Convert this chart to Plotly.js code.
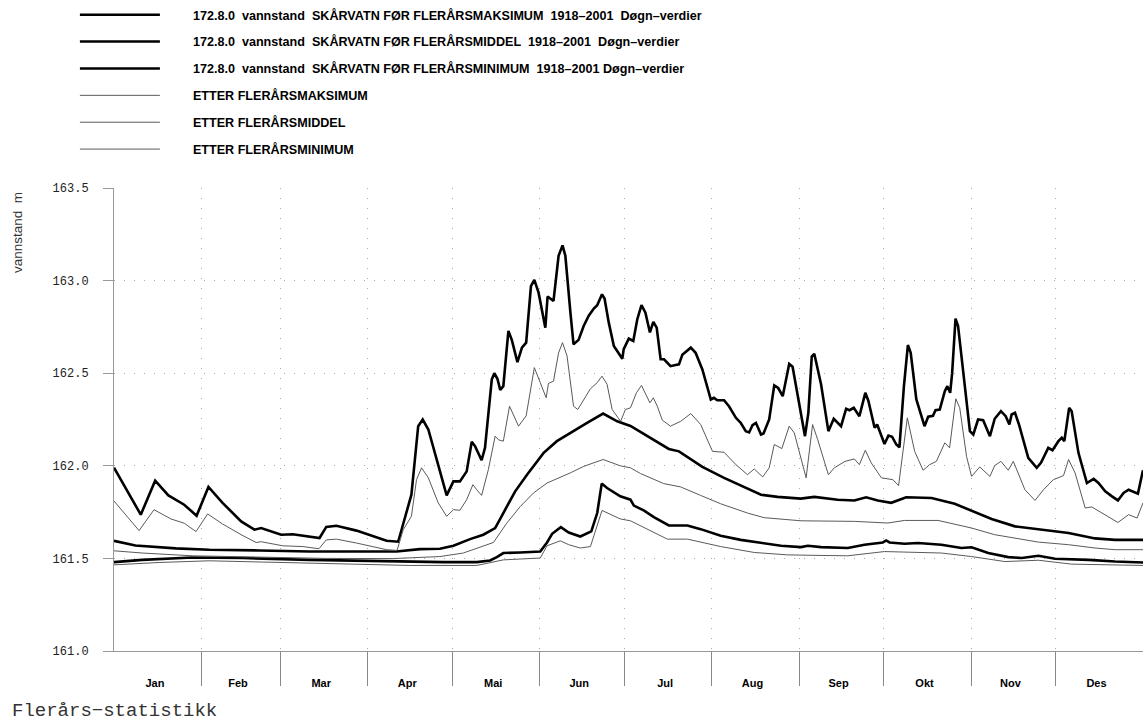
<!DOCTYPE html>
<html>
<head>
<meta charset="utf-8">
<script src="https://cdn.plot.ly/plotly-3.0.1.min.js"></script>
<style>html,body{margin:0;padding:0;background:#fff;}#chart{width:1143px;height:723px;}</style>
</head>
<body>
<div id="chart"></div>
<script>
// ---- data (day of year, water level in m) ----
const monthNames = ["Jan","Feb","Mar","Apr","Mai","Jun","Jul","Aug","Sep","Okt","Nov","Des"];
const monthStarts = [0,31,59,90,120,151,181,212,243,273,304,334,365];

const seriesNames = [
  "172.8.0\u00a0 vannstand\u00a0 SKÅRVATN FØR FLERÅRSMAKSIMUM\u00a0 1918–2001\u00a0 Døgn–verdier",
  "172.8.0\u00a0 vannstand\u00a0 SKÅRVATN FØR FLERÅRSMIDDEL\u00a0 1918–2001\u00a0 Døgn–verdier",
  "172.8.0\u00a0 vannstand\u00a0 SKÅRVATN FØR FLERÅRSMINIMUM\u00a0 1918–2001 Døgn–verdier",
  "ETTER FLERÅRSMAKSIMUM",
  "ETTER FLERÅRSMIDDEL",
  "ETTER FLERÅRSMINIMUM"
];

const forMaxDays = [0,9.5,14.6,19.3,24.9,29.3,33.5,38.5,45.1,49.8,52.2,59.3,63.4,68.2,72.9,75.3,78.9,86,91.9,96.7,100.8,103.8,105.5,107.9,109.5,111.5,115,118,120.4,122.7,125.1,126.9,128.1,130.4,131.6,134,134.9,136,137,138.1,139.9,141.1,143.1,144.7,146.2,147.9,149.1,150.6,153,153.8,155.9,157.7,159.1,160.1,161.9,163,164.8,166.6,168.4,170.2,171.4,173.1,174,175.5,177.3,180.3,180.8,182.6,184.2,185.6,187.1,188.5,190.1,191.3,192.5,193.9,195.1,197.4,199.2,200.4,201.6,204.6,206.3,208.7,211.7,212.8,214,216.4,218.2,220.6,222.3,224.1,225.3,226.5,227.7,229.5,230.4,232.4,234.2,235.6,237.2,239.5,240.7,242.5,245.1,246.3,247.5,248.4,250.8,253.4,255.3,257.9,259.7,260.9,262.4,264.4,266.5,267.6,269.8,270.7,272.8,273.3,274.7,276,277.5,278.6,280.2,281.6,282.6,284.6,287.5,288.8,290.5,291.4,292.9,294.7,295.6,296.6,297.3,298.5,299.4,301.2,303.6,304.8,306.5,308.3,310.7,312.4,314.6,316.3,317.6,318.4,319.6,321,324.3,327.3,328.8,331.4,332.9,335,336.2,337.1,338.8,339.7,342.1,345.1,347.5,349.2,351.6,354,356.1,358.1,359.9,363.2,365];
const forMaxVals = [161.99,161.736,161.92,161.84,161.79,161.73,161.886,161.80,161.70,161.655,161.664,161.628,161.63,161.62,161.61,161.67,161.676,161.65,161.62,161.595,161.59,161.754,161.844,162.214,162.25,162.196,161.997,161.84,161.916,161.916,161.97,162.13,162.105,162.03,162.097,162.466,162.50,162.47,162.41,162.43,162.728,162.68,162.56,162.638,162.665,162.97,163.004,162.935,162.746,162.914,162.89,163.134,163.19,163.134,162.827,162.656,162.68,162.755,162.81,162.849,162.867,162.926,162.903,162.773,162.647,162.578,162.63,162.687,162.674,162.79,162.867,162.827,162.72,162.777,162.746,162.575,162.575,162.538,162.544,162.548,162.60,162.638,162.61,162.52,162.358,162.367,162.354,162.354,162.32,162.259,162.232,162.187,162.18,162.22,162.232,162.169,162.174,162.25,162.434,162.42,162.376,162.55,162.535,162.376,162.16,162.286,162.59,162.605,162.44,162.187,162.254,162.214,162.308,162.30,162.313,162.268,162.394,162.35,162.205,162.223,162.142,162.118,162.163,162.157,162.115,162.10,162.43,162.652,162.61,162.358,162.214,162.265,162.27,162.30,162.304,162.403,162.43,162.394,162.50,162.795,162.755,162.50,162.187,162.169,162.25,162.246,162.16,162.254,162.295,162.268,162.223,162.277,162.286,162.223,162.043,161.989,162.016,162.097,162.084,162.133,162.151,162.133,162.313,162.295,162.07,161.907,161.929,161.907,161.862,161.835,161.813,161.853,161.871,161.85,161.976];

const forMidDays = [0,7.6,21.9,33.8,51.6,69.4,87.2,100.2,108.5,115.6,120.4,126.3,131,135.2,138.1,142.3,146.5,152.4,157.1,161.9,167.8,173.5,178.5,183.2,190.3,196.8,200.4,208.7,216.4,224.1,229.5,235.4,243.6,248.4,256.7,262.6,266.8,270.9,275.7,281,290,298.2,304.8,311.3,319.6,329,338.6,348,355.1,365];
const forMidVals = [161.595,161.57,161.554,161.547,161.543,161.537,161.537,161.537,161.55,161.552,161.568,161.604,161.628,161.664,161.745,161.862,161.952,162.07,162.133,162.178,162.232,162.282,162.24,162.215,162.151,162.091,162.078,161.994,161.935,161.88,161.844,161.832,161.823,161.832,161.817,161.813,161.83,161.813,161.80,161.83,161.826,161.795,161.754,161.713,161.673,161.655,161.637,161.608,161.60,161.60];

const forMinDays = [0,10,27.8,45.7,69.4,93.1,104.9,116.8,128.7,133.4,135.8,138.1,144.1,151.2,153.6,155.4,158.5,161.3,165.4,169.3,171.4,173,174.9,179.6,183.2,184.4,187.9,191.5,196.8,203.4,208.1,215.2,222.3,229.4,236.6,243.7,246.1,250.8,260.3,266.2,272.7,273.9,275.1,280.4,285.2,293.5,300.6,304.2,310.1,317.2,322,327.9,333.8,345.7,355.1,365];
const forMinVals = [161.48,161.492,161.505,161.502,161.492,161.485,161.482,161.48,161.48,161.489,161.507,161.529,161.532,161.537,161.586,161.633,161.669,161.64,161.618,161.646,161.745,161.904,161.88,161.835,161.817,161.785,161.759,161.723,161.678,161.678,161.658,161.622,161.60,161.586,161.568,161.561,161.568,161.561,161.556,161.574,161.586,161.597,161.586,161.579,161.583,161.574,161.556,161.56,161.529,161.507,161.502,161.514,161.498,161.492,161.483,161.478];

const etterMaxDays = [0,8.9,14.2,20.2,24.9,29.1,33.2,38.5,45.1,50.4,52.2,59.9,67,72.7,75.3,78.9,86,91.9,96.7,100.4,102.6,105.5,107.3,109.1,111.5,115,118,120.4,122.7,125.1,127.3,128.7,130.4,132.8,135.2,136.4,138.1,140.3,143.5,146.2,149.1,151.2,153.3,154.1,155.9,157.7,159.1,160.7,163,164.5,166.6,169,171.4,173.1,174.9,176.7,179.7,181.4,183.2,185.3,187.1,188.9,190.1,191.3,192.7,194.5,197.4,201,204.6,208.1,212.3,216.4,220.6,224.7,227.1,230.1,232.4,234.2,236.9,239.5,241.3,245.5,247.8,249.6,253.4,255.5,259.3,262.6,264.4,266.5,268.6,272.2,276.3,278.3,281.4,284,287,289.3,291.7,294.7,296.4,298.6,300,302.4,304.2,307.1,310.7,312.4,314.6,317.2,319,323.1,326.7,329.7,333.2,336.8,338.6,340.9,344.5,346.8,350.4,353.4,356.1,359.9,362.9,365];
const etterMaxVals = [161.81,161.65,161.763,161.713,161.69,161.645,161.74,161.686,161.628,161.586,161.59,161.568,161.564,161.552,161.60,161.604,161.583,161.561,161.547,161.543,161.655,161.727,161.925,161.989,161.935,161.80,161.727,161.763,161.76,161.817,161.898,161.87,161.84,161.98,162.16,162.14,162.133,162.322,162.214,162.27,162.53,162.449,162.367,162.445,162.457,162.61,162.665,162.593,162.322,162.304,162.358,162.416,162.449,162.484,162.44,162.304,162.24,162.304,162.313,162.394,162.434,162.376,162.34,162.367,162.322,162.246,162.214,162.24,162.282,162.223,162.078,162.073,162.006,161.952,161.983,161.94,161.989,162.115,162.093,162.214,162.178,161.935,162.223,162.142,161.952,161.989,162.024,162.037,162.006,162.084,162.016,161.935,161.925,161.893,162.259,162.078,161.976,162.006,162.024,162.124,162.097,162.362,162.313,162.051,161.943,161.994,161.943,162.001,162.024,161.976,162.024,161.871,161.813,161.871,161.925,161.947,162.034,161.962,161.772,161.778,161.745,161.718,161.694,161.736,161.718,161.80];

const etterMidDays = [0,10,27.8,51.6,75.3,99,115.6,123.9,128.7,134.6,139.3,144.1,148.8,153.6,161.9,166.6,173.5,179.6,183.2,186.8,195,201,208.1,215.2,224.7,230.6,243.7,262.6,274.5,280.4,292.3,304.2,312.4,327.9,338.6,348,355.1,365];
const etterMidVals = [161.541,161.529,161.514,161.505,161.50,161.499,161.51,161.529,161.556,161.586,161.69,161.78,161.853,161.907,161.962,161.997,162.034,162.0,161.989,161.958,161.904,161.886,161.84,161.795,161.745,161.72,161.703,161.70,161.691,161.705,161.705,161.664,161.628,161.588,161.574,161.556,161.547,161.547];

const etterMinDays = [0,16,33.8,57.5,81.2,104.9,128.7,134.6,138.1,151.2,153.6,158.3,161.3,165.4,169,173.1,176.1,179.6,183.2,186.8,196.3,203.4,215.2,227.1,239,250.8,260.3,273.3,286.4,293.5,304.2,316,327.9,339.7,365];
const etterMinVals = [161.465,161.478,161.487,161.478,161.469,161.462,161.462,161.483,161.492,161.502,161.568,161.595,161.574,161.556,161.564,161.759,161.736,161.713,161.703,161.676,161.604,161.604,161.564,161.532,161.519,161.516,161.514,161.537,161.532,161.529,161.51,161.483,161.49,161.469,161.462];

// ---- traces ----
const thick = {color: "#000000", width: 2.6};
const thin = {color: "#5a5a5a", width: 1};
const seriesX = [forMaxDays, forMidDays, forMinDays, etterMaxDays, etterMidDays, etterMinDays];
const seriesY = [forMaxVals, forMidVals, forMinVals, etterMaxVals, etterMidVals, etterMinVals];
const legendPad = "\u00a0".repeat(8);
const traces = seriesX.map((xs, i) => ({
  type: "scatter", mode: "lines", x: xs, y: seriesY[i], name: legendPad + seriesNames[i],
  legendgroup: "g" + i, line: Object.assign({}, i < 3 ? thick : thin),
  hoverinfo: "skip"
}));

const labelPos = monthStarts.slice(0, 12).map((s, i) => s + (monthStarts[i + 1] - s) / 2 - 1);
const sans = "Liberation Sans, Arial, sans-serif";

const layout = {
  width: 1143, height: 723,
  margin: {l: 114, r: 0, t: 188, b: 72},
  paper_bgcolor: "#fff", plot_bgcolor: "#fff",
  showlegend: true,
  legend: {
    x: -0.038, y: 1.407, xanchor: "left", yanchor: "top",
    bgcolor: "rgba(0,0,0,0)", borderwidth: 0,
    font: {family: sans, size: 12.6, color: "#000", weight: "bold"},
    itemwidth: 80, tracegroupgap: 7.5, traceorder: "grouped", itemclick: false
  },
  xaxis: {
    range: [0, 365], showline: true, linecolor: "#999", linewidth: 1, mirror: false,
    showgrid: false, zeroline: false,
    tickmode: "array", tickvals: labelPos, ticktext: monthNames,
    ticks: "outside", ticklen: 22, tickcolor: "rgba(0,0,0,0)",
    tickfont: {family: sans, size: 11, color: "#000", weight: "bold"},
    minor: {tickmode: "array", tickvals: monthStarts.slice(1, 12), ticks: "outside", ticklen: 34,
            tickcolor: "#888", tickwidth: 1, showgrid: true, gridcolor: "#aaa", gridwidth: 1, griddash: "1px,9px"}
  },
  yaxis: {
    range: [161.0, 163.5], dtick: 0.5, tick0: 161, tickformat: ".1f",
    showline: true, linecolor: "#999", linewidth: 1,
    ticks: "outside", ticklen: 10, tickcolor: "#999",
    showgrid: true, gridcolor: "#aaa", griddash: "1px,9px", zeroline: false,
    ticklabelstandoff: 12,
    tickfont: {family: "Liberation Mono, DejaVu Sans Mono, monospace", size: 12, color: "#222"}
  },
  annotations: [
    {text: "vannstand\u00a0 m", xref: "paper", yref: "paper", x: -0.0933, y: 0.905,
     xanchor: "center", yanchor: "middle", textangle: -90, showarrow: false,
     font: {family: sans, size: 13.5, color: "#333"}},
    {text: "Flerårs−statistikk", xref: "paper", yref: "paper", x: -0.101, y: -0.13,
     xanchor: "left", yanchor: "middle", showarrow: false,
     font: {family: "Liberation Mono, DejaVu Sans Mono, monospace", size: 19, color: "#333"}}
  ]
};

Plotly.newPlot("chart", traces, layout, {displayModeBar: false, staticPlot: true});
</script>
</body>
</html>
